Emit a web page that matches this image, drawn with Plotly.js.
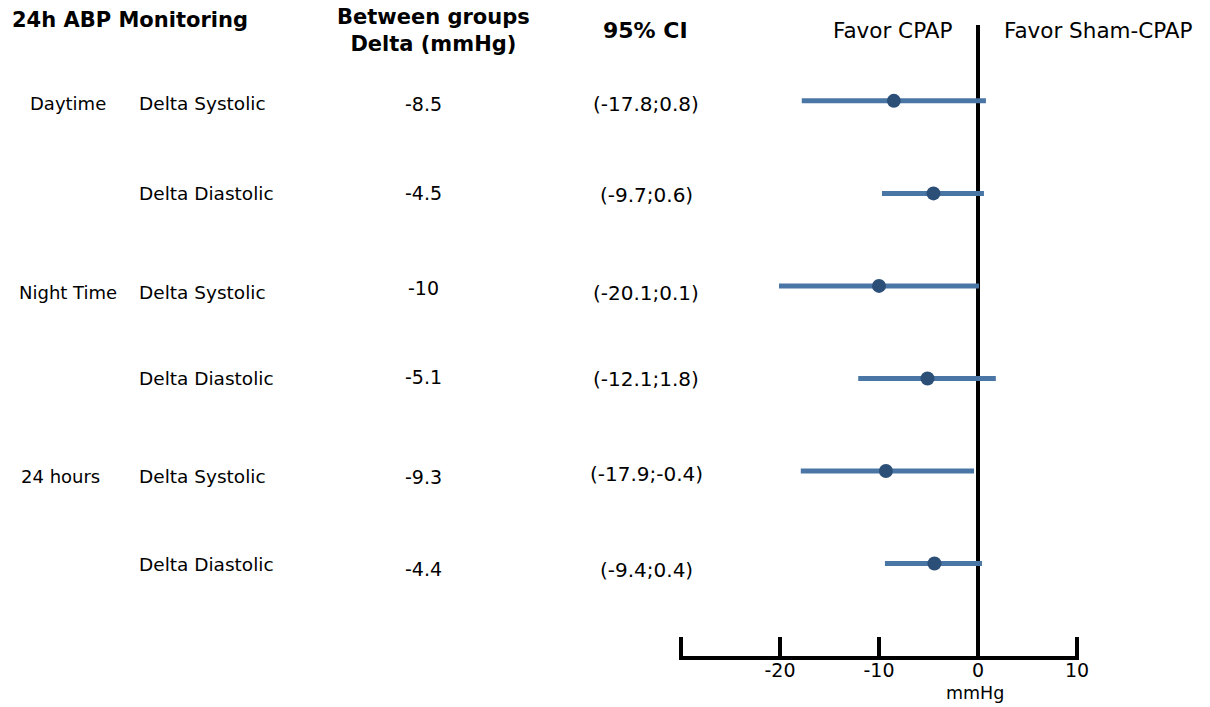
<!DOCTYPE html>
<html>
<head>
<meta charset="utf-8">
<script src="https://cdn.plot.ly/plotly-3.0.1.min.js"></script>
<style>
html,body{margin:0;padding:0;background:#fff;}
#chart{width:1210px;height:707px;}
</style>
</head>
<body>
<div id="chart"></div>
<script>
// ---- data ----
const groups = ["Daytime", "", "Night Time", "", "24 hours", ""];
const measures = ["Delta Systolic", "Delta Diastolic", "Delta Systolic", "Delta Diastolic", "Delta Systolic", "Delta Diastolic"];
const deltas = [-8.5, -4.5, -10, -5.1, -9.3, -4.4];
const ciLow = [-17.8, -9.7, -20.1, -12.1, -17.9, -9.4];
const ciHigh = [0.8, 0.6, 0.1, 1.8, -0.4, 0.4];
const rowPos = [6, 5, 4, 3, 2, 1];
const xTickVals = [-30, -20, -10, 0, 10];
const xTickText = ["", "-20", "-10", "0", "10"];

const W = 1210, H = 707;
const FONT = "DejaVu Sans, Verdana, sans-serif";
const px = x => x / W;
const py = y => 1 - y / H;

const ciText = ciLow.map((l, i) => "(" + l + ";" + ciHigh[i] + ")");

const trace = {
  type: "scatter",
  mode: "markers",
  x: deltas,
  y: rowPos,
  error_x: {
    type: "data",
    symmetric: false,
    array: deltas.map((d, i) => ciHigh[i] - d),
    arrayminus: deltas.map((d, i) => d - ciLow[i]),
    thickness: 5,
    width: 0,
    color: "#4a76a5"
  },
  marker: { symbol: "circle", size: 14, color: "#2c4f78" },
  hoverinfo: "x",
  showlegend: false
};

const ann = [];
const txt = (text, x, y, size, opts = {}) => ann.push(Object.assign({
  text: text, xref: "paper", yref: "paper", x: px(x), y: py(y),
  xanchor: "center", yanchor: "middle", showarrow: false,
  font: { family: FONT, size: size, color: "#000" }
}, opts));

// headers
txt("<b>24h ABP Monitoring</b>", 10, 20, 21, { xanchor: "left" });
txt("<b>Between groups<br>Delta (mmHg)</b>", 433, 30, 21);
txt("<b>95% CI</b>", 645, 31, 22);
txt("Favor CPAP", 892, 30, 21.5);
txt("Favor Sham-CPAP", 1098, 30, 21.5);
txt("mmHg", 975, 693, 17.5);

// row texts
const labelY = [104, 193, 292, 378, 476, 564];
const deltaY = [104, 193, 288, 377, 477, 569];
const ciY = [104, 195, 293, 379, 474, 570];
const groupX = [68, 0, 68, 0, 60, 0];
for (let i = 0; i < rowPos.length; i++) {
  if (groups[i]) txt(groups[i], groupX[i], labelY[i], 18);
  txt(measures[i], 137, labelY[i], 18.5, { xanchor: "left" });
  txt(String(deltas[i]), 423, deltaY[i], 19);
  txt(ciText[i], 646, ciY[i], 20);
}

const layout = {
  width: W, height: H,
  margin: { l: 0, r: 0, t: 0, b: 0 },
  paper_bgcolor: "#fff",
  plot_bgcolor: "rgba(0,0,0,0)",
  xaxis: {
    domain: [px(679), px(1079)],
    range: [-30.2, 10.2],
    tickvals: xTickVals,
    ticktext: xTickText,
    ticks: "inside",
    ticklen: 19,
    tickwidth: 4,
    tickcolor: "#000",
    ticklabelstandoff: -6,
    showline: true,
    linewidth: 4,
    linecolor: "#000",
    showgrid: false,
    zeroline: true,
    zerolinewidth: 4,
    zerolinecolor: "#000",
    tickfont: { family: FONT, size: 19, color: "#000" },
    anchor: "y",
    fixedrange: true
  },
  yaxis: {
    domain: [py(656), py(25)],
    range: [0, 6.82],
    visible: false,
    showgrid: false,
    zeroline: false,
    fixedrange: true
  },
  annotations: ann,
  showlegend: false
};

Plotly.newPlot("chart", [trace], layout, { displayModeBar: false, staticPlot: true });
</script>
</body>
</html>
